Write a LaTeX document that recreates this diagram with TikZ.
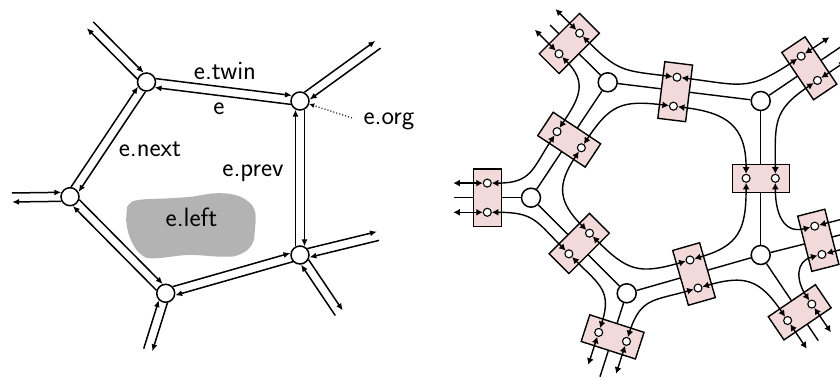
\documentclass[tikz,border=0pt]{standalone}
\usepackage{fontspec}
\usepackage{xcolor}
\usetikzlibrary{calc,arrows.meta}
\definecolor{hpink}{HTML}{F2DADA}
\definecolor{hgray}{HTML}{B3B3B3}

\begin{document}
\begin{tikzpicture}[x=1pt, y=1pt,
		vert/.style={circle, draw, fill=white, line width=1.5pt, minimum size=18pt, inner sep=0pt},
		hedge/.style={line width=1.5pt, -{Latex[length=7pt,width=6pt]}},
		lbl/.style={font=\sffamily\fontsize{26.5}{30}\selectfont, inner sep=0pt, anchor=base},
		rec/.style={rectangle, draw, fill=hpink, line width=1.4pt, minimum width=28pt, minimum height=57pt, inner sep=0pt},
		hrec/.style={circle, draw, fill=white, line width=1.1pt, minimum size=8pt, inner sep=0pt},
		fc/.style={line width=1.4pt, {Latex[length=6.5pt,width=7pt]}-{Latex[length=6.5pt,width=7pt]}, looseness=1.3}]
		\useasboundingbox (0,0) rectangle (840,378);
		\clip (0,0) rectangle (840,378);
		\fill[hgray] plot[smooth cycle, tension=.7] coordinates {(128.3,173) (138.3,178) (168.3,179.7) (191.7,181.3) (215,184.7) (235,183) (248.3,176.3) (255,166.3) (255,149.7) (251.7,133) (238.3,123) (221.7,121.3) (188.3,123) (155,119.7) (141.7,123) (131.7,136.3) (126.7,153) (126.7,166.3)};
		\node[vert] (A) at (146.5,296) {};
		\node[vert] (B) at (300,277) {};
		\node[vert] (C) at (300,123) {};
		\node[vert] (D) at (165.7,84.7) {};
		\node[vert] (E) at (70,181.3) {};
		\coordinate (oA) at (90,353);
		\coordinate (oB) at (378,333.5);
		\coordinate (oE) at (12,180.5);
		\coordinate (oC1) at (378,142);
		\coordinate (oC2) at (339,65);
		\coordinate (oD) at (148,28);
		\foreach \p/\q in {A/B, B/A, A/E, E/A, E/D, D/E, D/C, C/D, C/B, B/C}
			\draw[hedge, shorten <=8.6pt, shorten >=8.6pt] ($(\p)!4.5pt!90:(\q)$) -- ($(\q)!4.5pt!-90:(\p)$);
		\foreach \v/\s in {A/oA, B/oB, E/oE, C/oC1, C/oC2, D/oD} {
			\draw[hedge, shorten <=8.6pt] ($(\v)!4.5pt!90:(\s)$) -- ($(\s)!4.5pt!-90:(\v)$);
			\draw[hedge, shorten >=8.6pt] ($(\s)!4.5pt!90:(\v)$) -- ($(\v)!4.5pt!-90:(\s)$);
		}
		\node[lbl] (twin) at (225,298.7) {e.twin};
		\node[lbl] (elbl) at (219,263) {e};
		\node[lbl] (org) at (389,253) {e.org};
		\node[lbl] (next) at (150,221.3) {e.next};
		\node[lbl] (prev) at (253,201.5) {e.prev};
		\node[lbl] (left) at (191.5,151.5) {e.left};
		\coordinate (orgtail) at (352,260);
		\draw[dotted, line width=1.1pt, -{Latex[length=5pt,width=5pt]}] (orgtail) -- (B);
		\node[vert, minimum size=19pt] (RA) at (607.7,295.7) {};
		\node[vert, minimum size=19pt] (RB) at (760.7,277) {};
		\node[vert, minimum size=19pt] (RC) at (760.7,123) {};
		\node[vert, minimum size=19pt] (RD) at (626.7,84.7) {};
		\node[vert, minimum size=19pt] (RE) at (531,180.3) {};
		\coordinate (end6) at (454,180.3);
		\coordinate (end7) at (550,353);
		\coordinate (end8) at (845,334);
		\coordinate (end9) at (848,145);
		\coordinate (end10) at (818.3,37.3);
		\coordinate (end11) at (600,1.3);
		\draw[line width=1.4pt] (RA) -- (RB);
		\draw[line width=1.4pt] (RA) -- (RE);
		\draw[line width=1.4pt] (RE) -- (RD);
		\draw[line width=1.4pt] (RD) -- (RC);
		\draw[line width=1.4pt] (RB) -- (RC);
		\foreach \v/\s in {RE/end6, RA/end7, RB/end8, RC/end9, RC/end10, RD/end11}
			\draw[line width=1.4pt] (\v) -- (\s);
		\foreach \n/\x/\y/\a in {1/675.2/286.3/-7, 2/569.2/238.3/56.4, 3/579.2/134.5/-45, 4/694/104/16, 5/760.7/199.7/90, 6/487.3/180.3/0, 7/569.3/334.5/-45, 8/809.3/309.7/33.9, 9/818.3/137.7/14.3, 10/799.7/65.7/-55.8, 11/612.6/41.1/72.1} {
			\node[rec, rotate=\a] (r\n) at (\x,\y) {};
			\node[hrec] (n\n) at ($(r\n.center)!.5!(r\n.north)$) {};
			\node[hrec] (s\n) at ($(r\n.center)!.5!(r\n.south)$) {};
		}
		\foreach \h/\a in {n6/180, s6/180, n7/135, s7/135, n8/33.9, s8/33.9, n9/14.3, s9/14.3, n10/-55.8, s10/-55.8, n11/-107.9, s11/-107.9} {
			\coordinate (o\h) at ($(\h)+(\a:34)$);
			\draw[fc] (\h) -- (o\h);
		}
		\draw[fc] (s1) to[out=-7, in=90] (n5);
		\draw[fc] (n5) to[out=-90, in=16] (n4);
		\draw[fc] (n4) to[out=196, in=-45] (n3);
		\draw[fc] (n3) to[out=135, in=236.4] (s2);
		\draw[fc] (s2) to[out=56.4, in=173] (s1);
		\draw[fc] (n7) to[out=-45, in=173] (n1);
		\draw[fc] (n1) to[out=-7, in=213.9] (n8);
		\draw[fc] (s7) to[out=-45, in=56.4] (n2);
		\draw[fc] (n2) to[out=236.4, in=0] (n6);
		\draw[fc] (s6) to[out=0, in=135] (s3);
		\draw[fc] (s3) to[out=-45, in=72.1] (n11);
		\draw[fc] (s11) to[out=72.1, in=196] (s4);
		\draw[fc] (s4) to[out=16, in=124.2] (s10);
		\draw[fc] (n10) to[out=124.2, in=194.3] (s9);
		\draw[fc] (n9) to[out=194.3, in=-90] (s5);
		\draw[fc] (s5) to[out=90, in=213.9] (s8);
	\end{tikzpicture}
\end{document}
